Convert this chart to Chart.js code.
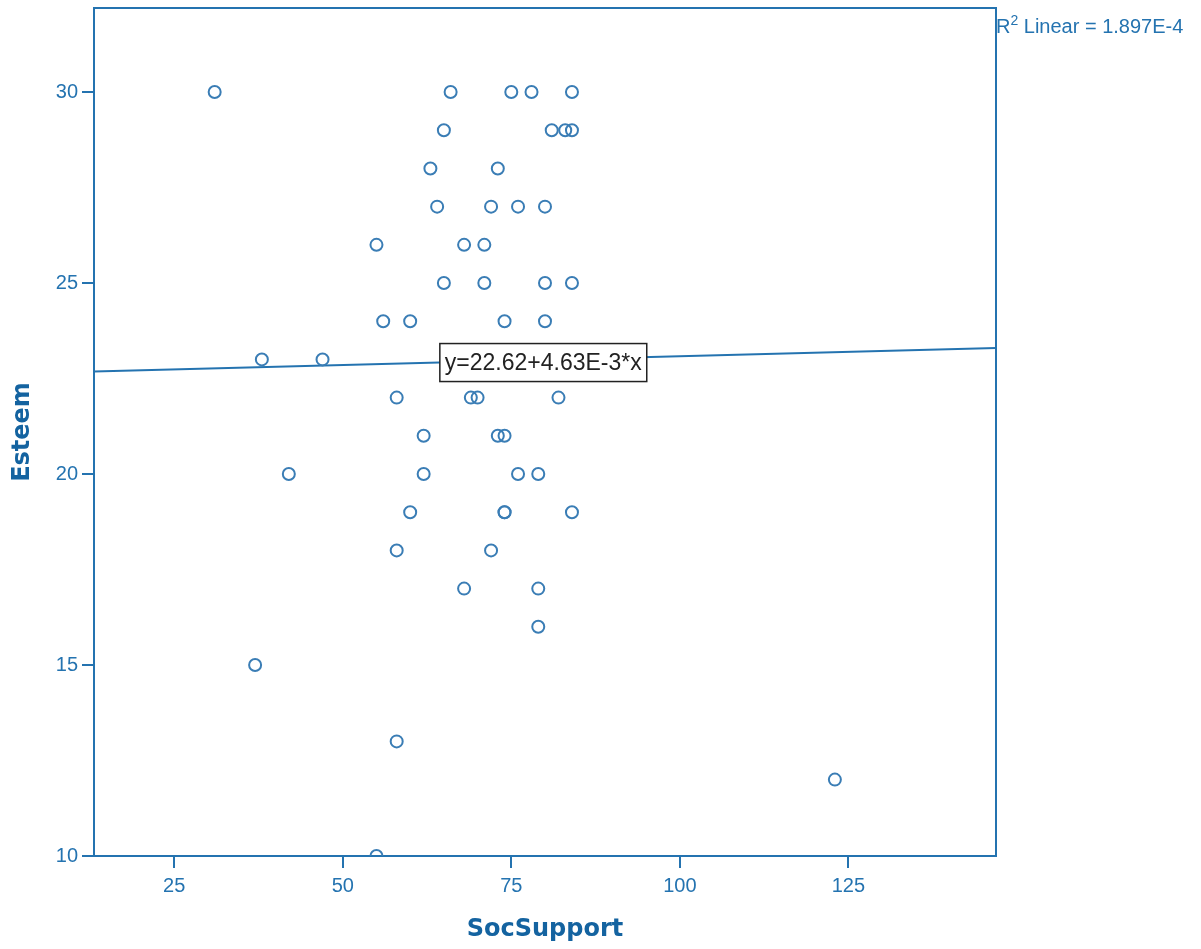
<!DOCTYPE html>
<html>
<head>
<meta charset="utf-8">
<script src="https://cdn.jsdelivr.net/npm/chart.js@4"></script>
<style>
  html, body { margin: 0; padding: 0; background: #fff; }
  #wrap { width: 1201px; height: 949px; }
</style>
</head>
<body>
<div id="wrap"><canvas id="scatterChart"></canvas></div>
<script>
// data
const socSupport = [31, 66, 75, 78, 84, 65, 81, 83, 84, 63, 73, 64, 72, 76, 80, 55, 68, 71,
  65, 71, 80, 84, 56, 60, 74, 80, 38, 47, 58, 69, 70, 82, 62, 73, 74, 42, 62, 76, 79,
  60, 74, 74, 84, 58, 72, 68, 79, 79, 37, 58, 123, 55];
const esteem = [30, 30, 30, 30, 30, 29, 29, 29, 29, 28, 28, 27, 27, 27, 27, 26, 26, 26,
  25, 25, 25, 25, 24, 24, 24, 24, 23, 23, 22, 22, 22, 22, 21, 21, 21, 20, 20, 20, 20,
  19, 19, 19, 19, 18, 18, 17, 17, 16, 15, 13, 12, 10];
const xTicks = [25, 50, 75, 100, 125];
const yTicks = [10, 15, 20, 25, 30];
const xRange = [13.1, 146.9];
const yRange = [10, 32.2];
const fitIntercept = 22.62;
const fitSlope = 4.63e-3;
const fitLabel = 'y=22.62+4.63E-3*x';
const fitLabelX = 64.4;
const rSquared = '1.897E-4';

const axisColor = '#2473b0';
const titleColor = '#1463a0';
const pointColor = '#3a7db5';

const points = socSupport.map((x, i) => ({ x, y: esteem[i] }));
const fitLine = xRange.map(x => ({ x, y: fitIntercept + fitSlope * x }));

const frameAndLabels = {
  id: 'frameAndLabels',
  afterDatasetsDraw(chart) {
    const { ctx, chartArea } = chart;
    const xs = chart.scales.x, ys = chart.scales.y;
    ctx.save();
    // top + right frame
    ctx.strokeStyle = axisColor;
    ctx.lineWidth = 2;
    ctx.beginPath();
    ctx.moveTo(chartArea.left, chartArea.top);
    ctx.lineTo(chartArea.right, chartArea.top);
    ctx.lineTo(chartArea.right, chartArea.bottom);
    ctx.stroke();

    // equation box on the fit line
    ctx.font = '23px "Liberation Sans", Arial, sans-serif';
    const w = ctx.measureText(fitLabel).width;
    const bx = xs.getPixelForValue(fitLabelX);
    const by = ys.getPixelForValue(fitIntercept + fitSlope * fitLabelX);
    const bw = w + 10, bh = 38;
    ctx.fillStyle = '#fff';
    ctx.fillRect(bx, by - bh / 2, bw, bh);
    ctx.strokeStyle = '#222';
    ctx.lineWidth = 1.5;
    ctx.strokeRect(bx, by - bh / 2, bw, bh);
    ctx.fillStyle = '#222';
    ctx.textBaseline = 'middle';
    ctx.fillText(fitLabel, bx + 5, by + 1);

    // R² note at top right
    const rx = chartArea.right;
    const ry = chartArea.top + 25;
    ctx.fillStyle = axisColor;
    ctx.textBaseline = 'alphabetic';
    ctx.font = '20px "Liberation Sans", Arial, sans-serif';
    ctx.fillText('R', rx, ry);
    let cx = rx + ctx.measureText('R').width;
    ctx.font = '14px "Liberation Sans", Arial, sans-serif';
    ctx.fillText('2', cx, ry - 8);
    cx += ctx.measureText('2').width;
    ctx.font = '20px "Liberation Sans", Arial, sans-serif';
    ctx.fillText(' Linear = ' + rSquared, cx, ry);
    ctx.restore();
  }
};

const tickFont = { family: '"Liberation Sans", Arial, sans-serif', size: 20 };
const titleFont = { family: '"DejaVu Sans", sans-serif', size: 24, weight: 'bold' };

new Chart(document.getElementById('scatterChart'), {
  type: 'scatter',
  data: {
    datasets: [{
      label: 'Esteem',
      data: points,
      pointStyle: 'circle',
      pointRadius: 6,
      pointBorderWidth: 2,
      borderColor: pointColor,
      backgroundColor: 'rgba(0,0,0,0)',
      clip: 0
    }, {
      label: 'Fit',
      data: fitLine,
      showLine: true,
      pointRadius: 0,
      borderColor: axisColor,
      borderWidth: 2,
      clip: 0
    }]
  },
  options: {
    responsive: true,
    maintainAspectRatio: false,
    animation: false,
    layout: { padding: { top: 8, right: 205, left: 0, bottom: 0 } },
    plugins: { legend: { display: false }, tooltip: { enabled: false } },
    scales: {
      x: {
        type: 'linear',
        min: xRange[0],
        max: xRange[1],
        afterBuildTicks: s => { s.ticks = xTicks.map(v => ({ value: v })); },
        afterFit: s => { s.height = 93; s.paddingLeft = 0; s.paddingRight = 0; },
        grid: { drawOnChartArea: false, drawTicks: true, tickLength: 12, color: axisColor, lineWidth: 2 },
        border: { display: true, color: axisColor, width: 2 },
        ticks: { color: axisColor, font: tickFont, padding: 6, maxRotation: 0 },
        title: { display: true, text: 'SocSupport', color: titleColor, font: titleFont, padding: { top: 0, bottom: 5 } }
      },
      y: {
        type: 'linear',
        min: yRange[0],
        max: yRange[1],
        afterBuildTicks: s => { s.ticks = yTicks.map(v => ({ value: v })); },
        afterFit: s => { s.width = 94; s.paddingTop = 0; s.paddingBottom = 0; },
        grid: { drawOnChartArea: false, drawTicks: true, tickLength: 12, color: axisColor, lineWidth: 2 },
        border: { display: true, color: axisColor, width: 2 },
        ticks: { color: axisColor, font: tickFont, padding: 4 },
        title: { display: true, text: 'Esteem', color: titleColor, font: titleFont, padding: { top: 8, bottom: 0 } }
      }
    }
  },
  plugins: [frameAndLabels]
});
</script>
</body>
</html>
